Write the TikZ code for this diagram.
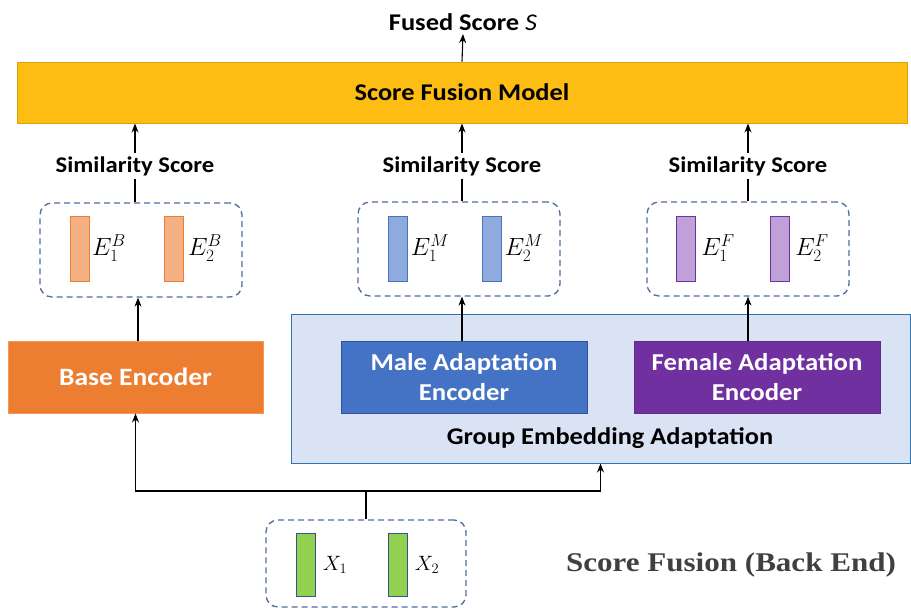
\documentclass[tikz,border=0pt]{standalone}
\usepackage{fontspec}
\setmainfont{Carlito}[FakeStretch=1.1]
\newfontfamily\serifbold{Liberation Serif}[FakeStretch=1.15]
\usetikzlibrary{arrows.meta}
\definecolor{fusegold}{HTML}{FDBD13}
\definecolor{fuseedge}{HTML}{D9A20B}
\definecolor{baseorange}{HTML}{ED7D31}
\definecolor{baseedge}{HTML}{F0995A}
\definecolor{barorange}{HTML}{F4B183}
\definecolor{groupfill}{HTML}{DAE3F3}
\definecolor{groupedge}{HTML}{2E75B6}
\definecolor{maleblue}{HTML}{4472C4}
\definecolor{maleedge}{HTML}{2F5597}
\definecolor{barblue}{HTML}{8FAADC}
\definecolor{femalepurple}{HTML}{7030A0}
\definecolor{femaleedge}{HTML}{5E2A8C}
\definecolor{barpurple}{HTML}{C0A0D8}
\definecolor{bargreen}{HTML}{92D050}
\definecolor{dashedge}{HTML}{4E6D9C}
\tikzset{
  lbl/.style={font=\fontsize{24}{28}\selectfont\bfseries},
  block/.style={draw, line width=1pt, minimum width=246, minimum height=72,
    align=center, text=white, font=\fontsize{24.3}{30}\selectfont\bfseries},
  embbox/.style={draw=dashedge, dash pattern=on 6pt off 4pt, line width=1.3pt,
    rounded corners=12pt, minimum width=202, minimum height=94},
  bar/.style={draw, line width=1pt, minimum width=19, minimum height=65, inner sep=0pt},
  emb/.style={font=\fontsize{23}{25}\selectfont},
  flow/.style={line width=1.1pt, -{Stealth[length=9pt,width=7pt]}},
  link/.style={line width=1.1pt}
}
\begin{document}
\begin{tikzpicture}[x=1pt,y=-1pt]
  \useasboundingbox (0,0) rectangle (911,608);
  % top of the picture
  \node (fused) at (463,22) [lbl, font=\fontsize{24}{28}\selectfont\bfseries]
    {Fused Score \textmd{\textit{S}}};
  \node (fusion) at (462,92.5) [draw=fuseedge, fill=fusegold, line width=1pt,
    minimum width=890, minimum height=61, lbl] {Score Fusion Model};
  \node (simB) at (135,166) [lbl, font=\fontsize{22.4}{26}\selectfont\bfseries] {Similarity Score};
  \node (simM) at (462,166) [lbl, font=\fontsize{22.4}{26}\selectfont\bfseries] {Similarity Score};
  \node (simF) at (748,166) [lbl, font=\fontsize{22.4}{26}\selectfont\bfseries] {Similarity Score};
  % embedding pairs
  \node (dashB) at (141,250) [embbox] {};
  \node (dashM) at (459,249) [embbox] {};
  \node (dashF) at (748,249) [embbox] {};
  \node (barB1) at (79.5,249) [bar, draw=baseorange, fill=barorange] {};
  \node (barB2) at (173.5,249) [bar, draw=baseorange, fill=barorange] {};
  \node (barM1) at (397.5,249) [bar, draw=maleblue, fill=barblue] {};
  \node (barM2) at (492,249) [bar, draw=maleblue, fill=barblue] {};
  \node (barF1) at (686,249) [bar, draw=femalepurple, fill=barpurple] {};
  \node (barF2) at (780,249) [bar, draw=femalepurple, fill=barpurple] {};
  \node (labB1) at (109,248) [emb] {$E_1^B$};
  \node (labB2) at (205,248) [emb] {$E_2^B$};
  \node (labM1) at (430,248) [emb] {$E_1^M$};
  \node (labM2) at (524,248) [emb] {$E_2^M$};
  \node (labF1) at (718,248) [emb] {$E_1^F$};
  \node (labF2) at (812,248) [emb] {$E_2^F$};
  % encoders
  \node (group) at (600.5,388.5) [draw=groupedge, fill=groupfill, line width=1pt,
    minimum width=619, minimum height=149] {};
  \node (groupname) at (610,438) [lbl] {Group Embedding Adaptation};
  \node (base) at (135.5,377) [block, draw=baseedge, fill=baseorange,
    minimum width=255, font=\fontsize{25}{30}\selectfont\bfseries] {Base Encoder};
  \node (male) at (464,377) [block, draw=maleedge, fill=maleblue]
    {Male Adaptation\\Encoder};
  \node (female) at (757,377) [block, draw=femaleedge, fill=femalepurple]
    {Female Adaptation\\Encoder};
  % input pair
  \node (dashX) at (366,563.5) [embbox, minimum width=200, minimum height=87] {};
  \node (barX1) at (305.5,564.5) [bar, draw=maleedge, fill=bargreen, minimum height=63] {};
  \node (barX2) at (397.5,564.5) [bar, draw=maleedge, fill=bargreen, minimum height=63] {};
  \node (labX1) at (335,565) [emb, font=\fontsize{21}{24}\selectfont] {$X_1$};
  \node (labX2) at (427,565) [emb, font=\fontsize{21}{24}\selectfont] {$X_2$};
  \node (caption) at (731,565) [font=\serifbold\fontsize{27}{30}\selectfont\bfseries,
    text=black!75] {Score Fusion (Back End)};
  \coordinate (join) at (366,491);
  % connectors
  \draw[flow] (fusion.north) -- (fused.south);
  \draw[flow] (simB.north) -- (simB.north |- fusion.south);
  \draw[flow] (simM.north) -- (simM.north |- fusion.south);
  \draw[flow] (simF.north) -- (simF.north |- fusion.south);
  \draw[link] (dashB.north -| simB) -- (simB.south);
  \draw[link] (dashM.north -| simM) -- (simM.south);
  \draw[link] (dashF.north -| simF) -- (simF.south);
  \draw[flow] (base.north -| 138,0) -- (dashB.south -| 138,0);
  \draw[flow] (male.north -| simM) -- (dashM.south -| simM);
  \draw[flow] (female.north -| simF) -- (dashF.south -| simF);
  \draw[link] (dashX.north) -- (join);
  \draw[flow] (join) -| (base.south);
  \draw[flow] (join) -| (group.south);
\end{tikzpicture}
\end{document}
